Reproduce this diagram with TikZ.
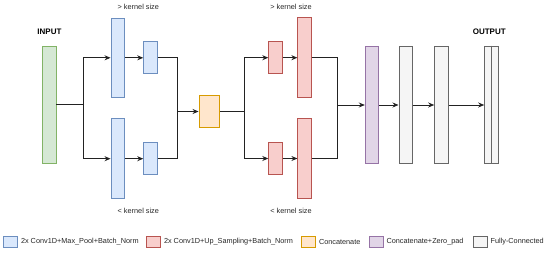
\documentclass[tikz,border=0pt]{standalone}
\usepackage{fontspec}
\setmainfont{Liberation Sans}
\usepackage{tikz}
\usetikzlibrary{arrows.meta, positioning}
\definecolor{inpline}{HTML}{82b366}
\definecolor{inpfill}{HTML}{d5e8d4}
\definecolor{poolline}{HTML}{6c8ebf}
\definecolor{poolfill}{HTML}{dae8fc}
\definecolor{upline}{HTML}{b85450}
\definecolor{upfill}{HTML}{f8cecc}
\definecolor{catline}{HTML}{d79b00}
\definecolor{catfill}{HTML}{ffe6cc}
\definecolor{padline}{HTML}{9673a6}
\definecolor{padfill}{HTML}{e1d5e7}
\definecolor{fcline}{HTML}{666666}
\definecolor{fcfill}{HTML}{f5f5f5}
\definecolor{wiregray}{HTML}{222222}

\begin{document}
\begin{tikzpicture}[
    x=1pt, y=-1pt,
    box/.style={rectangle, draw=#1line, fill=#1fill, line width=0.8pt, inner sep=0pt},
    tallbox/.style={minimum width=13.6pt, minimum height=117.7pt},
    midbox/.style={minimum width=13.5pt, minimum height=79.7pt},
    smallbox/.style={minimum width=13.6pt, minimum height=32.2pt},
    keybox/.style={minimum width=14pt, minimum height=11.7pt},
    lbl/.style={font=\fontsize{7.3}{8}\selectfont, text=black!85, inner sep=0pt},
    title/.style={font=\fontsize{8}{9}\selectfont\bfseries, inner sep=0pt},
    line/.style={draw=wiregray, line width=0.9pt},
    arr/.style={line, -{Stealth[length=6pt, width=5pt]}},
  ]
  \useasboundingbox (0,0) rectangle (550,254);

  % Nodes
  \node[box=inp, tallbox] (in) at (49.2,104.9) {};
  \node[title] (intitle) at (49.5,31.7) {INPUT};

  \node[box=pool, midbox] (b1) at (117.7,57.8) {};
  \node[box=pool, smallbox, right=18.4pt of b1] (b2) {};
  \node[box=pool, midbox] (b3) at (117.7,158.7) {};
  \node[box=pool, smallbox, right=18.4pt of b3] (b4) {};

  \node[box=cat, minimum width=20.7pt, minimum height=32.4pt] (cat) at (209.3,111.5) {};

  \node[box=up, smallbox] (r1) at (275.5,57.7) {};
  \node[box=up, midbox, right=14.7pt of r1] (r2) {};
  \node[box=up, smallbox] (r3) at (275.5,158.5) {};
  \node[box=up, midbox, right=14.7pt of r3] (r4) {};

  \node[box=pad, tallbox] (zp) at (372,105) {};
  \node[box=fc, tallbox, right=19.3pt of zp] (fc1) {};
  \node[box=fc, tallbox, right=21.3pt of fc1] (fc2) {};
  \node[box=fc, tallbox, right=35.6pt of fc2] (out) {};
  \draw[fcline, line width=0.8pt] (out.north) -- (out.south);
  \node[title] (outtitle) at (489.3,31.7) {OUTPUT};

  % Kernel size labels
  \node[lbl] (k1) at (138.3,6.7) {> kernel size};
  \node[lbl] (k2) at (291,6.7) {> kernel size};
  \node[lbl] (k3) at (138.3,210.7) {< kernel size};
  \node[lbl] (k4) at (291,210.7) {< kernel size};

  % Branch points
  \coordinate (sp1) at (83,104.9);
  \coordinate (mg1) at (177.7,111.5);
  \coordinate (sp2) at (244.3,111.5);
  \coordinate (mg2) at (337.7,105);

  % Arrows
  \draw[line] (in) -- (sp1);
  \draw[arr] (sp1) |- (b1);
  \draw[arr] (sp1) |- (b3);
  \draw[arr] (b1) -- (b2);
  \draw[arr] (b3) -- (b4);
  \draw[line] (b2) -| (mg1);
  \draw[line] (b4) -| (mg1);
  \draw[arr] (mg1) -- (cat);
  \draw[line] (cat) -- (sp2);
  \draw[arr] (sp2) |- (r1);
  \draw[arr] (sp2) |- (r3);
  \draw[arr] (r1) -- (r2);
  \draw[arr] (r3) -- (r4);
  \draw[line] (r2) -| (mg2);
  \draw[line] (r4) -| (mg2);
  \draw[arr] (mg2) -- (zp);
  \draw[arr] (zp) -- (fc1);
  \draw[arr] (fc1) -- (fc2);
  \draw[arr] (fc2) -- (out);

  % Legend
  \node[box=pool, keybox] (kpool) at (10.7,241.8) {};
  \node[lbl, right=2.7pt of kpool] (tpool) {2x Conv1D+Max\_Pool+Batch\_Norm};
  \node[box=up, keybox] (kup) at (153.7,241.8) {};
  \node[lbl, right=2.7pt of kup] (tup) {2x Conv1D+Up\_Sampling+Batch\_Norm};
  \node[box=cat, keybox] (kcat) at (308.7,241.8) {};
  \node[lbl, right=2.7pt of kcat] (tcat) {Concatenate};
  \node[box=pad, keybox] (kpad) at (376.3,241.8) {};
  \node[lbl, right=2.7pt of kpad] (tpad) {Concatenate+Zero\_pad};
  \node[box=fc, keybox] (kfc) at (480.3,241.8) {};
  \node[lbl, right=2.7pt of kfc] (tfc) {Fully-Connected};
\end{tikzpicture}
\end{document}
